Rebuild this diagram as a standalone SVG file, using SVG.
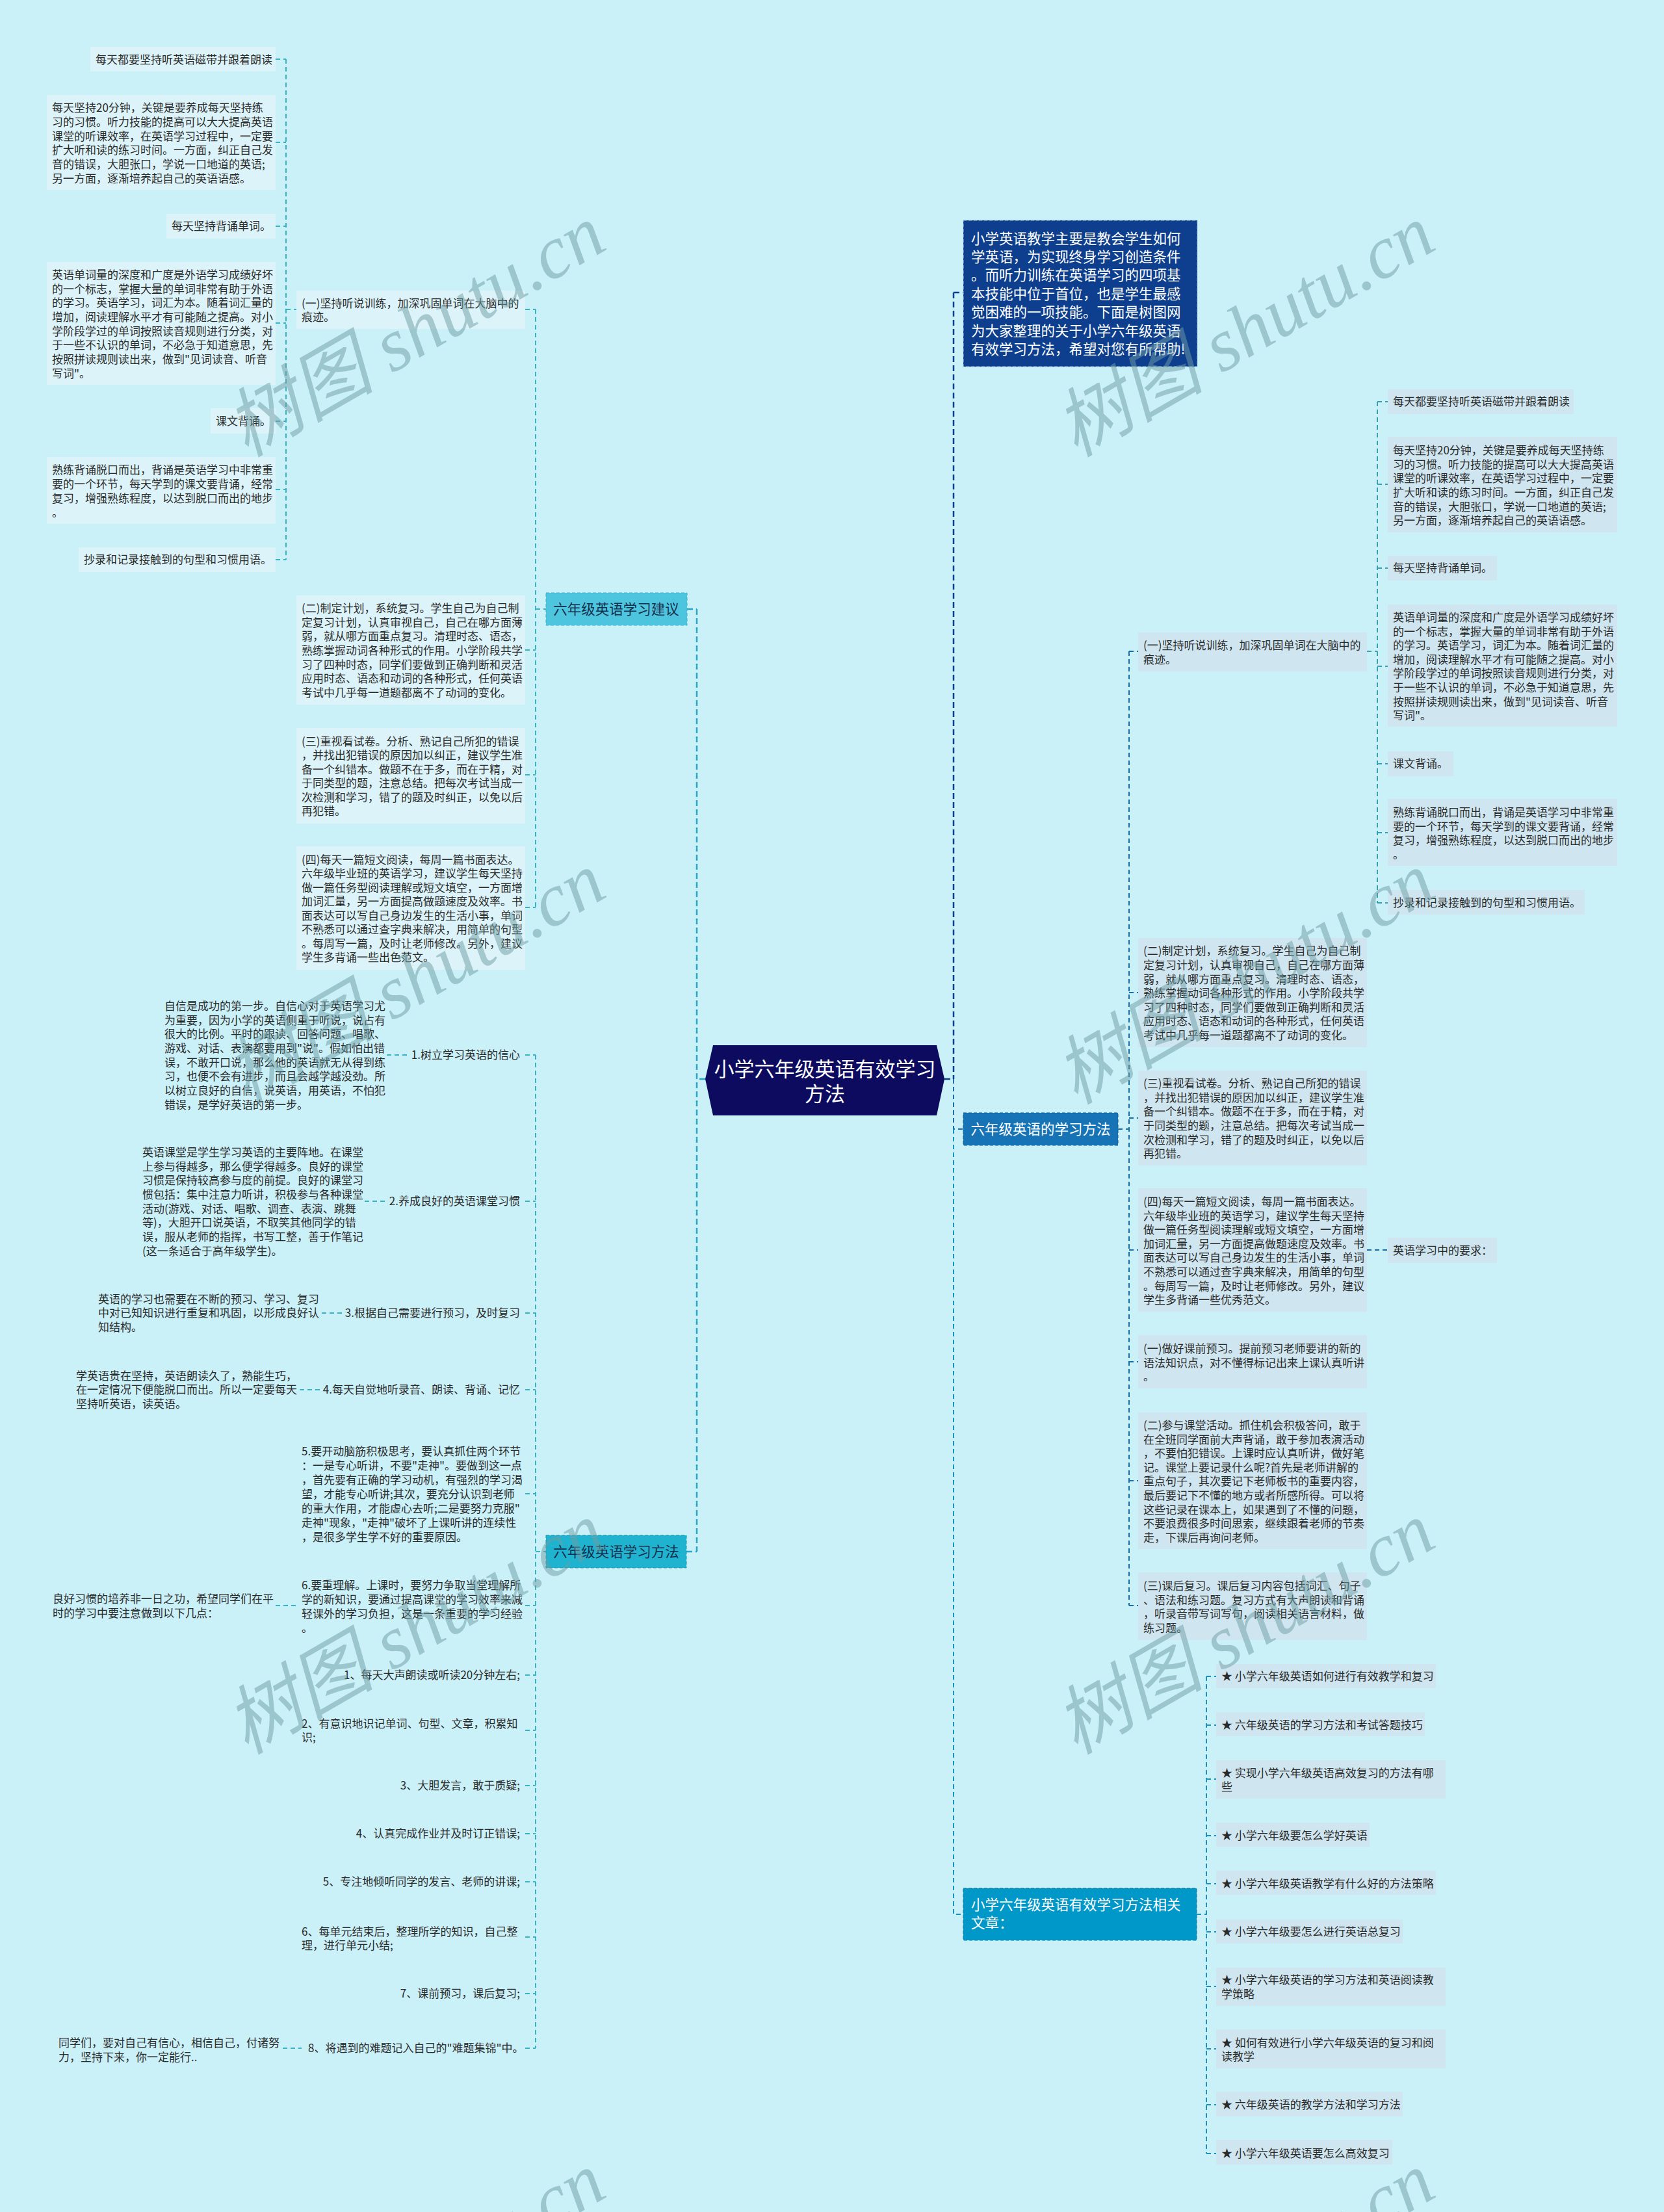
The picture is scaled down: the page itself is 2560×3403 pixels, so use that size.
<svg xmlns="http://www.w3.org/2000/svg" width="2560" height="3403" viewBox="0 0 2560 3403">
<style>
.t{font-family:"Noto Sans CJK SC","Noto Sans",sans-serif;font-size:17px;fill:#2b2b2b}
.h{font-family:"Noto Sans CJK SC","Noto Sans",sans-serif;font-size:21.5px}
.w{fill:#ffffff}
.d{fill:#15304c}
.bl{fill:#dcf4f9}
.br{fill:#cfe6f0}
.cl{fill:none;stroke:#3ab2c6;stroke-width:2;stroke-dasharray:7 5}
.ct{fill:none;stroke:#25a7c8;stroke-width:2.5;stroke-dasharray:9 5}
.cn{fill:none;stroke:#0e3f8e;stroke-width:2.5;stroke-dasharray:9 5}
.cb{fill:none;stroke:#1a6ea8;stroke-width:2;stroke-dasharray:7 5}
.cr{fill:none;stroke:#3a9fb2;stroke-width:2;stroke-dasharray:7 5}
.ca{fill:none;stroke:#1a92bd;stroke-width:2;stroke-dasharray:7 5}
.wm{font-family:"Liberation Serif","Noto Sans CJK SC",serif;font-style:italic;font-size:115px;fill:#6f9ea5;opacity:0.5}
</style>
<rect x="0" y="0" width="2560" height="3403" fill="#caf0f8"/>

<g id="connectors">
<path class="ct" d="M1085 1660H1072M1072 937V2387M1057 937H1072M1056 2387H1072"/>
<path class="cn" d="M1453 1660H1467M1467 450V1660M1467 450H1482"/>
<path class="cb" d="M1467 1660V1737H1482"/>
<path class="ca" d="M1467 1737V2945H1482"/>
<path class="cl" d="M824 476V1396M824 937H840M808 476H824M808 1000H824M808 1192H824M808 1396H824"/>
<path class="cl" d="M440 91V861M440 476H456M424 91H440M424 219H440M424 348H440M424 497H440M424 648H440M424 753H440M424 861H440"/>
<path class="cl" d="M824 1623V3151M824 2387H840M808 1623H824M808 1848H824M808 2020H824M808 2138H824M808 2298H824M808 2470H824M808 2577H824M808 2662H824M808 2747H824M808 2821H824M808 2895H824M808 2980H824M808 3067H824M808 3151H824"/>
<path class="cl" d="M595 1623H627M561 1848H593M495 2020H527M461 2138H493M424 2470H456M435 3151H464"/>
<path class="cb" d="M1737 1002V2470M1720 1737H1737M1737 1002H1751M1737 1527H1751M1737 1720H1751M1737 1923H1751M1737 2095H1751M1737 2278H1751M1737 2470H1751M2103 1923H2135"/>
<path class="cr" d="M2119 618V1389M2103 1002H2119M2119 618H2135M2119 745H2135M2119 874H2135M2119 1025H2135M2119 1175H2135M2119 1281H2135M2119 1389H2135"/>
<path class="ca" d="M1856 2579V3313M1841 2945H1856M1856 2579H1871M1856 2654H1871M1856 2737H1871M1856 2824H1871M1856 2898H1871M1856 2972H1871M1856 3056H1871M1856 3152H1871M1856 3238H1871M1856 3313H1871"/>
</g>

<g id="root">
<polygon points="1097,1608 1441,1608 1453,1660 1441,1716 1097,1716 1085,1660" fill="#0c0b5f"/>
<text font-family="Noto Sans CJK SC,sans-serif" font-size="31" fill="#ffffff" text-anchor="middle"><tspan x="1269" y="1656">小学六年级英语有效学习</tspan><tspan x="1269" y="1694">方法</tspan></text>
</g>

<g id="n-jianyi">
<rect x="840" y="912" width="217" height="50" fill="#4ec5de" stroke="#3ab0cc" stroke-dasharray="5 3"/>
<text class="h d" x="948" y="945" text-anchor="middle">六年级英语学习建议</text>
</g>
<g id="n-fangfa-left">
<rect x="840" y="2362" width="216" height="50" fill="#1fb3d0" stroke="#1496b4" stroke-dasharray="5 3"/>
<text class="h d" x="948" y="2395" text-anchor="middle">六年级英语学习方法</text>
</g>

<g id="l-yi">
<rect class="bl" x="456" y="447" width="352" height="59"/>
<text class="t"><tspan x="464" y="473">(一)坚持听说训练，加深巩固单词在大脑中的</tspan><tspan x="464" y="494">痕迹。</tspan></text>
</g>
<g id="l-yi-1"><rect class="bl" x="139" y="72" width="285" height="38"/><text class="t" x="147" y="98">每天都要坚持听英语磁带并跟着朗读</text></g>
<g id="l-yi-2"><rect class="bl" x="72" y="146" width="352" height="146"/>
<text class="t"><tspan x="80" y="172">每天坚持20分钟，关键是要养成每天坚持练</tspan><tspan x="80" y="194">习的习惯。听力技能的提高可以大大提高英语</tspan><tspan x="80" y="216">课堂的听课效率，在英语学习过程中，一定要</tspan><tspan x="80" y="237">扩大听和读的练习时间。一方面，纠正自己发</tspan><tspan x="80" y="259">音的错误，大胆张口，学说一口地道的英语;</tspan><tspan x="80" y="281">另一方面，逐渐培养起自己的英语语感。</tspan></text></g>
<g id="l-yi-3"><rect class="bl" x="256" y="329" width="168" height="38"/><text class="t" x="264" y="354">每天坚持背诵单词。</text></g>
<g id="l-yi-4"><rect class="bl" x="72" y="403" width="352" height="189"/>
<text class="t"><tspan x="80" y="429">英语单词量的深度和广度是外语学习成绩好坏</tspan><tspan x="80" y="451">的一个标志，掌握大量的单词非常有助于外语</tspan><tspan x="80" y="472">的学习。英语学习，词汇为本。随着词汇量的</tspan><tspan x="80" y="494">增加，阅读理解水平才有可能随之提高。对小</tspan><tspan x="80" y="516">学阶段学过的单词按照读音规则进行分类，对</tspan><tspan x="80" y="537">于一些不认识的单词，不必急于知道意思，先</tspan><tspan x="80" y="559">按照拼读规则读出来，做到"见词读音、听音</tspan><tspan x="80" y="581">写词"。</tspan></text></g>
<g id="l-yi-5"><rect class="bl" x="324" y="628" width="100" height="39"/><text class="t" x="332" y="654">课文背诵。</text></g>
<g id="l-yi-6"><rect class="bl" x="72" y="703" width="352" height="103"/>
<text class="t"><tspan x="80" y="729">熟练背诵脱口而出，背诵是英语学习中非常重</tspan><tspan x="80" y="751">要的一个环节，每天学到的课文要背诵，经常</tspan><tspan x="80" y="773">复习，增强熟练程度，以达到脱口而出的地步</tspan><tspan x="80" y="795">。</tspan></text></g>
<g id="l-yi-7"><rect class="bl" x="121" y="842" width="303" height="38"/><text class="t" x="129" y="867">抄录和记录接触到的句型和习惯用语。</text></g>

<g id="l-er"><rect class="bl" x="456" y="916" width="352" height="168"/>
<text class="t"><tspan x="464" y="942">(二)制定计划，系统复习。学生自己为自己制</tspan><tspan x="464" y="964">定复习计划，认真审视自己，自己在哪方面薄</tspan><tspan x="464" y="985">弱，就从哪方面重点复习。清理时态、语态，</tspan><tspan x="464" y="1007">熟练掌握动词各种形式的作用。小学阶段共学</tspan><tspan x="464" y="1029">习了四种时态，同学们要做到正确判断和灵活</tspan><tspan x="464" y="1050">应用时态、语态和动词的各种形式，任何英语</tspan><tspan x="464" y="1072">考试中几乎每一道题都离不了动词的变化。</tspan></text></g>
<g id="l-san"><rect class="bl" x="456" y="1120" width="352" height="147"/>
<text class="t"><tspan x="464" y="1147">(三)重视看试卷。分析、熟记自己所犯的错误</tspan><tspan x="464" y="1168">，并找出犯错误的原因加以纠正，建议学生准</tspan><tspan x="464" y="1190">备一个纠错本。做题不在于多，而在于精，对</tspan><tspan x="464" y="1211">于同类型的题，注意总结。把每次考试当成一</tspan><tspan x="464" y="1233">次检测和学习，错了的题及时纠正，以免以后</tspan><tspan x="464" y="1254">再犯错。</tspan></text></g>
<g id="l-si"><rect class="bl" x="456" y="1302" width="352" height="190"/>
<text class="t"><tspan x="464" y="1329">(四)每天一篇短文阅读，每周一篇书面表达。</tspan><tspan x="464" y="1350">六年级毕业班的英语学习，建议学生每天坚持</tspan><tspan x="464" y="1372">做一篇任务型阅读理解或短文填空，一方面增</tspan><tspan x="464" y="1393">加词汇量，另一方面提高做题速度及效率。书</tspan><tspan x="464" y="1415">面表达可以写自己身边发生的生活小事，单词</tspan><tspan x="464" y="1436">不熟悉可以通过查字典来解决，用简单的句型</tspan><tspan x="464" y="1458">。每周写一篇，及时让老师修改。另外，建议</tspan><tspan x="464" y="1479">学生多背诵一些出色范文。</tspan></text></g>

<g id="m-1"><text class="t" x="800" y="1629" text-anchor="end">1.树立学习英语的信心</text></g>
<g id="m-1-c"><text class="t"><tspan x="253" y="1554">自信是成功的第一步。自信心对于英语学习尤</tspan><tspan x="253" y="1576">为重要，因为小学的英语侧重于听说，说占有</tspan><tspan x="253" y="1597">很大的比例。平时的跟读、回答问题、唱歌、</tspan><tspan x="253" y="1619">游戏、对话、表演都要用到"说"。假如怕出错</tspan><tspan x="253" y="1641">误，不敢开口说，那么他的英语就无从得到练</tspan><tspan x="253" y="1662">习，也便不会有进步，而且会越学越没劲。所</tspan><tspan x="253" y="1684">以树立良好的自信，说英语，用英语，不怕犯</tspan><tspan x="253" y="1706">错误，是学好英语的第一步。</tspan></text></g>
<g id="m-2"><text class="t" x="800" y="1854" text-anchor="end">2.养成良好的英语课堂习惯</text></g>
<g id="m-2-c"><text class="t"><tspan x="219" y="1779">英语课堂是学生学习英语的主要阵地。在课堂</tspan><tspan x="219" y="1801">上参与得越多，那么便学得越多。良好的课堂</tspan><tspan x="219" y="1822">习惯是保持较高参与度的前提。良好的课堂习</tspan><tspan x="219" y="1844">惯包括：集中注意力听讲，积极参与各种课堂</tspan><tspan x="219" y="1866">活动(游戏、对话、唱歌、调查、表演、跳舞</tspan><tspan x="219" y="1887">等)，大胆开口说英语，不取笑其他同学的错</tspan><tspan x="219" y="1909">误，服从老师的指挥，书写工整，善于作笔记</tspan><tspan x="219" y="1931">(这一条适合于高年级学生)。</tspan></text></g>
<g id="m-3"><text class="t" x="800" y="2026" text-anchor="end">3.根据自己需要进行预习，及时复习</text></g>
<g id="m-3-c"><text class="t"><tspan x="151" y="2005">英语的学习也需要在不断的预习、学习、复习</tspan><tspan x="151" y="2026">中对已知知识进行重复和巩固，以形成良好认</tspan><tspan x="151" y="2048">知结构。</tspan></text></g>
<g id="m-4"><text class="t" x="800" y="2144" text-anchor="end">4.每天自觉地听录音、朗读、背诵、记忆</text></g>
<g id="m-4-c"><text class="t"><tspan x="117" y="2123">学英语贵在坚持，英语朗读久了，熟能生巧，</tspan><tspan x="117" y="2144">在一定情况下便能脱口而出。所以一定要每天</tspan><tspan x="117" y="2166">坚持听英语，读英语。</tspan></text></g>
<g id="m-5"><text class="t"><tspan x="464" y="2239">5.要开动脑筋积极思考，要认真抓住两个环节</tspan><tspan x="464" y="2261">：一是专心听讲，不要"走神"。要做到这一点</tspan><tspan x="464" y="2283">，首先要有正确的学习动机，有强烈的学习渴</tspan><tspan x="464" y="2305">望，才能专心听讲;其次，要充分认识到老师</tspan><tspan x="464" y="2327">的重大作用，才能虚心去听;二是要努力克服"</tspan><tspan x="464" y="2349">走神"现象，"走神"破坏了上课听讲的连续性</tspan><tspan x="464" y="2371">，是很多学生学不好的重要原因。</tspan></text></g>
<g id="m-6"><text class="t"><tspan x="464" y="2445">6.要重理解。上课时，要努力争取当堂理解所</tspan><tspan x="464" y="2467">学的新知识，要通过提高课堂的学习效率来减</tspan><tspan x="464" y="2489">轻课外的学习负担，这是一条重要的学习经验</tspan><tspan x="464" y="2511">。</tspan></text></g>
<g id="m-6-c"><text class="t"><tspan x="81" y="2466">良好习惯的培养非一日之功，希望同学们在平</tspan><tspan x="81" y="2488">时的学习中要注意做到以下几点：</tspan></text></g>
<g id="m-7"><text class="t" x="800" y="2583" text-anchor="end">1、每天大声朗读或听读20分钟左右;</text></g>
<g id="m-8"><text class="t"><tspan x="464" y="2658">2、有意识地识记单词、句型、文章，积累知</tspan><tspan x="464" y="2679">识;</tspan></text></g>
<g id="m-9"><text class="t" x="800" y="2753" text-anchor="end">3、大胆发言，敢于质疑;</text></g>
<g id="m-10"><text class="t" x="800" y="2827" text-anchor="end">4、认真完成作业并及时订正错误;</text></g>
<g id="m-11"><text class="t" x="800" y="2901" text-anchor="end">5、专注地倾听同学的发言、老师的讲课;</text></g>
<g id="m-12"><text class="t"><tspan x="464" y="2978">6、每单元结束后，整理所学的知识，自己整</tspan><tspan x="464" y="2999">理，进行单元小结;</tspan></text></g>
<g id="m-13"><text class="t" x="800" y="3073" text-anchor="end">7、课前预习，课后复习;</text></g>
<g id="m-14"><text class="t" x="474" y="3157">8、将遇到的难题记入自己的"难题集锦"中。</text></g>
<g id="m-14-c"><text class="t"><tspan x="90" y="3149">同学们，要对自己有信心，相信自己，付诸努</tspan><tspan x="90" y="3171">力，坚持下来，你一定能行..</tspan></text></g>

<g id="intro">
<rect x="1482" y="339" width="360" height="225" fill="#0e3f8e" stroke="#9cc4e4" stroke-dasharray="5 3"/>
<text class="h w"><tspan x="1494" y="375">小学英语教学主要是教会学生如何</tspan><tspan x="1494" y="403">学英语，为实现终身学习创造条件</tspan><tspan x="1494" y="431">。而听力训练在英语学习的四项基</tspan><tspan x="1494" y="460">本技能中位于首位，也是学生最感</tspan><tspan x="1494" y="488">觉困难的一项技能。下面是树图网</tspan><tspan x="1494" y="517">为大家整理的关于小学六年级英语</tspan><tspan x="1494" y="545">有效学习方法，希望对您有所帮助!</tspan></text>
</g>

<g id="n-fangfa-right">
<rect x="1482" y="1712" width="238" height="50" fill="#1673b5" stroke="#0e5a92" stroke-dasharray="5 3"/>
<text class="h w" x="1601" y="1745" text-anchor="middle">六年级英语的学习方法</text>
</g>

<g id="r-yi"><rect class="br" x="1751" y="973" width="352" height="60"/>
<text class="t"><tspan x="1759" y="999">(一)坚持听说训练，加深巩固单词在大脑中的</tspan><tspan x="1759" y="1021">痕迹。</tspan></text></g>
<g id="r-yi-1"><rect class="br" x="2135" y="599" width="286" height="38"/><text class="t" x="2143" y="624">每天都要坚持听英语磁带并跟着朗读</text></g>
<g id="r-yi-2"><rect class="br" x="2135" y="672" width="353" height="147"/>
<text class="t"><tspan x="2143" y="699">每天坚持20分钟，关键是要养成每天坚持练</tspan><tspan x="2143" y="721">习的习惯。听力技能的提高可以大大提高英语</tspan><tspan x="2143" y="742">课堂的听课效率，在英语学习过程中，一定要</tspan><tspan x="2143" y="764">扩大听和读的练习时间。一方面，纠正自己发</tspan><tspan x="2143" y="786">音的错误，大胆张口，学说一口地道的英语;</tspan><tspan x="2143" y="807">另一方面，逐渐培养起自己的英语语感。</tspan></text></g>
<g id="r-yi-3"><rect class="br" x="2135" y="855" width="168" height="38"/><text class="t" x="2143" y="880">每天坚持背诵单词。</text></g>
<g id="r-yi-4"><rect class="br" x="2135" y="930" width="353" height="188"/>
<text class="t"><tspan x="2143" y="956">英语单词量的深度和广度是外语学习成绩好坏</tspan><tspan x="2143" y="978">的一个标志，掌握大量的单词非常有助于外语</tspan><tspan x="2143" y="999">的学习。英语学习，词汇为本。随着词汇量的</tspan><tspan x="2143" y="1021">增加，阅读理解水平才有可能随之提高。对小</tspan><tspan x="2143" y="1042">学阶段学过的单词按照读音规则进行分类，对</tspan><tspan x="2143" y="1064">于一些不认识的单词，不必急于知道意思，先</tspan><tspan x="2143" y="1086">按照拼读规则读出来，做到"见词读音、听音</tspan><tspan x="2143" y="1107">写词"。</tspan></text></g>
<g id="r-yi-5"><rect class="br" x="2135" y="1156" width="101" height="38"/><text class="t" x="2143" y="1181">课文背诵。</text></g>
<g id="r-yi-6"><rect class="br" x="2135" y="1229" width="353" height="103"/>
<text class="t"><tspan x="2143" y="1256">熟练背诵脱口而出，背诵是英语学习中非常重</tspan><tspan x="2143" y="1278">要的一个环节，每天学到的课文要背诵，经常</tspan><tspan x="2143" y="1299">复习，增强熟练程度，以达到脱口而出的地步</tspan><tspan x="2143" y="1321">。</tspan></text></g>
<g id="r-yi-7"><rect class="br" x="2135" y="1369" width="303" height="38"/><text class="t" x="2143" y="1395">抄录和记录接触到的句型和习惯用语。</text></g>

<g id="r-er"><rect class="br" x="1751" y="1443" width="352" height="168"/>
<text class="t"><tspan x="1759" y="1469">(二)制定计划，系统复习。学生自己为自己制</tspan><tspan x="1759" y="1491">定复习计划，认真审视自己，自己在哪方面薄</tspan><tspan x="1759" y="1513">弱，就从哪方面重点复习。清理时态、语态，</tspan><tspan x="1759" y="1534">熟练掌握动词各种形式的作用。小学阶段共学</tspan><tspan x="1759" y="1556">习了四种时态，同学们要做到正确判断和灵活</tspan><tspan x="1759" y="1577">应用时态、语态和动词的各种形式，任何英语</tspan><tspan x="1759" y="1599">考试中几乎每一道题都离不了动词的变化。</tspan></text></g>
<g id="r-san"><rect class="br" x="1751" y="1647" width="352" height="146"/>
<text class="t"><tspan x="1759" y="1673">(三)重视看试卷。分析、熟记自己所犯的错误</tspan><tspan x="1759" y="1695">，并找出犯错误的原因加以纠正，建议学生准</tspan><tspan x="1759" y="1716">备一个纠错本。做题不在于多，而在于精，对</tspan><tspan x="1759" y="1738">于同类型的题，注意总结。把每次考试当成一</tspan><tspan x="1759" y="1760">次检测和学习，错了的题及时纠正，以免以后</tspan><tspan x="1759" y="1781">再犯错。</tspan></text></g>
<g id="r-si"><rect class="br" x="1751" y="1828" width="352" height="190"/>
<text class="t"><tspan x="1759" y="1855">(四)每天一篇短文阅读，每周一篇书面表达。</tspan><tspan x="1759" y="1877">六年级毕业班的英语学习，建议学生每天坚持</tspan><tspan x="1759" y="1898">做一篇任务型阅读理解或短文填空，一方面增</tspan><tspan x="1759" y="1920">加词汇量，另一方面提高做题速度及效率。书</tspan><tspan x="1759" y="1941">面表达可以写自己身边发生的生活小事，单词</tspan><tspan x="1759" y="1963">不熟悉可以通过查字典来解决，用简单的句型</tspan><tspan x="1759" y="1985">。每周写一篇，及时让老师修改。另外，建议</tspan><tspan x="1759" y="2006">学生多背诵一些优秀范文。</tspan></text></g>
<g id="r-si-1"><rect class="br" x="2135" y="1904" width="168" height="39"/><text class="t" x="2143" y="1930">英语学习中的要求：</text></g>
<g id="r-yi2"><rect class="br" x="1751" y="2054" width="352" height="82"/>
<text class="t"><tspan x="1759" y="2081">(一)做好课前预习。提前预习老师要讲的新的</tspan><tspan x="1759" y="2103">语法知识点，对不懂得标记出来上课认真听讲</tspan><tspan x="1759" y="2124">。</tspan></text></g>
<g id="r-er2"><rect class="br" x="1751" y="2173" width="352" height="210"/>
<text class="t"><tspan x="1759" y="2199">(二)参与课堂活动。抓住机会积极答问，敢于</tspan><tspan x="1759" y="2221">在全班同学面前大声背诵，敢于参加表演活动</tspan><tspan x="1759" y="2242">，不要怕犯错误。上课时应认真听讲，做好笔</tspan><tspan x="1759" y="2264">记。课堂上要记录什么呢?首先是老师讲解的</tspan><tspan x="1759" y="2285">重点句子，其次要记下老师板书的重要内容，</tspan><tspan x="1759" y="2307">最后要记下不懂的地方或者所感所得。可以将</tspan><tspan x="1759" y="2329">这些记录在课本上，如果遇到了不懂的问题，</tspan><tspan x="1759" y="2350">不要浪费很多时间思索，继续跟着老师的节奏</tspan><tspan x="1759" y="2372">走，下课后再询问老师。</tspan></text></g>
<g id="r-san2"><rect class="br" x="1751" y="2419" width="352" height="104"/>
<text class="t"><tspan x="1759" y="2446">(三)课后复习。课后复习内容包括词汇、句子</tspan><tspan x="1759" y="2468">、语法和练习题。复习方式有大声朗读和背诵</tspan><tspan x="1759" y="2489">，听录音带写词写句，阅读相关语言材料，做</tspan><tspan x="1759" y="2511">练习题。</tspan></text></g>

<g id="articles">
<rect x="1482" y="2905" width="359" height="80" fill="#0098c9" stroke="#0a7aa6" stroke-dasharray="5 3"/>
<text class="h w"><tspan x="1494" y="2938">小学六年级英语有效学习方法相关</tspan><tspan x="1494" y="2966">文章：</tspan></text>
</g>
<g id="a-1"><rect class="br" x="1871" y="2560" width="338" height="37"/><text class="t" x="1879" y="2585">★ 小学六年级英语如何进行有效教学和复习</text></g>
<g id="a-2"><rect class="br" x="1871" y="2634" width="321" height="37"/><text class="t" x="1879" y="2660">★ 六年级英语的学习方法和考试答题技巧</text></g>
<g id="a-3"><rect class="br" x="1871" y="2708" width="353" height="59"/><text class="t"><tspan x="1879" y="2734">★ 实现小学六年级英语高效复习的方法有哪</tspan><tspan x="1879" y="2755">些</tspan></text></g>
<g id="a-4"><rect class="br" x="1871" y="2804" width="236" height="37"/><text class="t" x="1879" y="2830">★ 小学六年级要怎么学好英语</text></g>
<g id="a-5"><rect class="br" x="1871" y="2878" width="338" height="37"/><text class="t" x="1879" y="2904">★ 小学六年级英语教学有什么好的方法策略</text></g>
<g id="a-6"><rect class="br" x="1871" y="2953" width="287" height="37"/><text class="t" x="1879" y="2978">★ 小学六年级要怎么进行英语总复习</text></g>
<g id="a-7"><rect class="br" x="1871" y="3027" width="353" height="59"/><text class="t"><tspan x="1879" y="3052">★ 小学六年级英语的学习方法和英语阅读教</tspan><tspan x="1879" y="3074">学策略</tspan></text></g>
<g id="a-8"><rect class="br" x="1871" y="3122" width="353" height="60"/><text class="t"><tspan x="1879" y="3149">★ 如何有效进行小学六年级英语的复习和阅</tspan><tspan x="1879" y="3170">读教学</tspan></text></g>
<g id="a-9"><rect class="br" x="1871" y="3218" width="287" height="38"/><text class="t" x="1879" y="3244">★ 六年级英语的教学方法和学习方法</text></g>
<g id="a-10"><rect class="br" x="1871" y="3292" width="271" height="38"/><text class="t" x="1879" y="3319">★ 小学六年级英语要怎么高效复习</text></g>

<g id="watermark">
<text class="wm" transform="translate(379 704) rotate(-30)">树图 shutu.cn</text>
<text class="wm" transform="translate(1655 704) rotate(-30)">树图 shutu.cn</text>
<text class="wm" transform="translate(379 1700) rotate(-30)">树图 shutu.cn</text>
<text class="wm" transform="translate(1655 1700) rotate(-30)">树图 shutu.cn</text>
<text class="wm" transform="translate(379 2700) rotate(-30)">树图 shutu.cn</text>
<text class="wm" transform="translate(1655 2700) rotate(-30)">树图 shutu.cn</text>
<text class="wm" transform="translate(379 3700) rotate(-30)">树图 shutu.cn</text>
<text class="wm" transform="translate(1655 3700) rotate(-30)">树图 shutu.cn</text>
</g>
</svg>
